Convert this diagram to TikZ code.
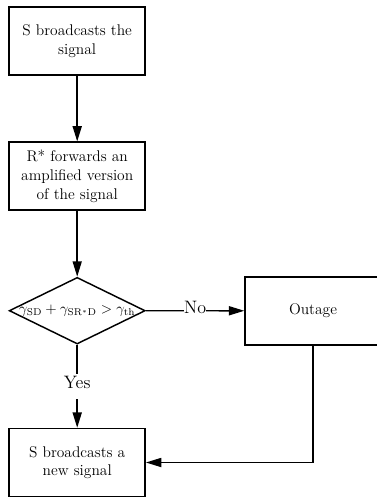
\documentclass[tikz,border=0pt]{standalone}
\usepackage{fontspec}
\usetikzlibrary{shapes.geometric,arrows.meta}
\tikzset{
  stepbox/.style={draw, line width=1.1pt, minimum width=102pt, minimum height=51pt,
    inner sep=2pt, align=center, font=\fontsize{11.6}{14}\selectfont},
  decbox/.style={draw, diamond, line width=1.1pt, minimum width=102pt, minimum height=50pt,
    inner sep=0pt, font=\fontsize{10.6}{13}\selectfont},
  arr/.style={line width=1.1pt, -{Triangle[length=11.5pt,width=6.8pt]}},
  lbl/.style={fill=white, inner xsep=0.3pt, inner ysep=0pt, text height=11.25pt, text depth=7.5pt,
    font=\fontsize{13.5}{16}\selectfont}
}
\begin{document}
\begin{tikzpicture}[x=0.75pt, y=-0.75pt]
\useasboundingbox (0,0) rectangle (377,497);
\clip (0,0) rectangle (377,497);
\node[stepbox] (b1) at (77.2,41.2) {S broadcasts the\\signal};
\node[stepbox] (b2) at (77.2,176.2) {R* forwards an\\amplified version\\of the signal};
\node[decbox] (dec) at (77.2,310.7) {\makebox[0pt]{$\gamma_{\mathrm{SD}} + \gamma_{\mathrm{SR^*D}} > \gamma_{\mathrm{th}}$}};
\node[stepbox] (out) at (313,310.8) {Outage};
\node[stepbox] (b3) at (77.2,462.5) {S broadcasts a\\new signal};
\draw[arr] (b1) -- (b2);
\draw[arr] (b2) -- (dec);
\draw[arr] (dec) -- node[lbl] (no) {No} (out);
\draw[arr] (dec) -- node[lbl] (yes) {Yes} (b3);
\draw[arr] (out.south) |- (b3.east);
\end{tikzpicture}
\end{document}
